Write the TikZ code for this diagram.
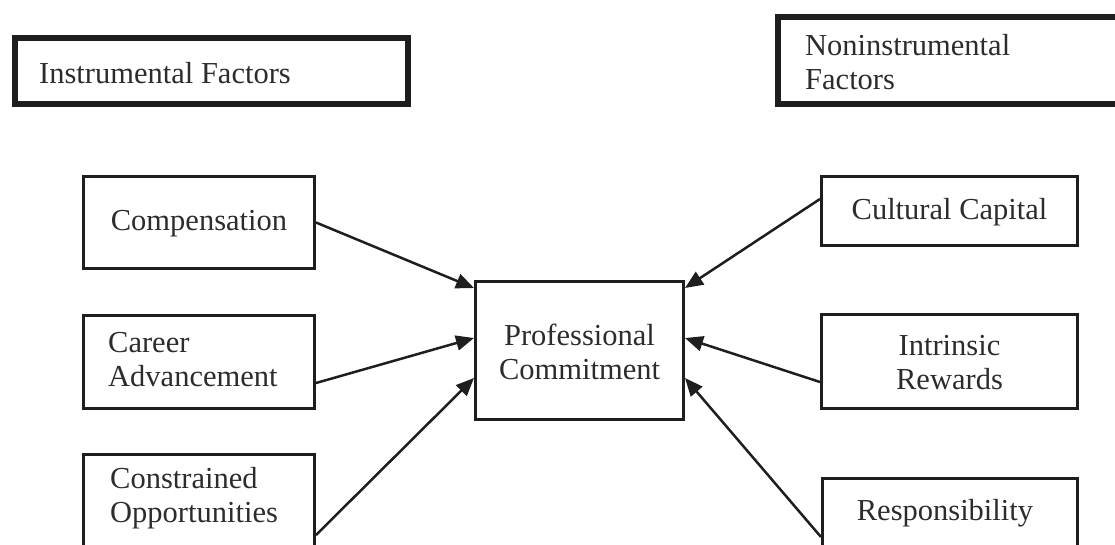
\documentclass[tikz,border=0pt]{standalone}
\usepackage{fontspec}
\setmainfont{Liberation Serif}
\usetikzlibrary{arrows.meta,calc}
\definecolor{ink}{HTML}{1E1E1E}
\definecolor{txt}{HTML}{2C2C2C}
\begin{document}
\begin{tikzpicture}[x=1pt,y=-1pt,
  lbl/.style={font=\fontsize{30.5}{34}\selectfont, text=txt, inner sep=0pt},
  thinbox/.style={draw=ink, line width=3pt, inner sep=0pt, anchor=north west},
  thickbox/.style={draw=ink, line width=5.5pt, inner sep=0pt, anchor=north west},
  arr/.style={draw=ink, line width=2.5pt, -{Triangle[length=18pt,width=15pt]}}]
\useasboundingbox (0,0) rectangle (1115,544);
\clip (0,0) rectangle (1115,544);
% header boxes
\node[thickbox, minimum width=393pt, minimum height=66pt] (instr) at (12,35) {};
\node[lbl, anchor=west] (instrT) at (39,73) {Instrumental Factors};
\node[thickbox, minimum width=360pt, minimum height=87pt] (nonin) at (775,14) {};
\node[lbl, anchor=west, align=left] (noninT) at (805,62) {Noninstrumental\\Factors};
% left column
\node[thinbox, minimum width=231pt, minimum height=92pt] (comp) at (82,175) {};
\node[lbl] (compT) at ($(comp.center)+(0,1)$) {Compensation};
\node[thinbox, minimum width=231pt, minimum height=93pt] (career) at (82,314) {};
\node[lbl, anchor=west, align=left] (careerT) at (108,360) {Career\\Advancement};
\node[thinbox, minimum width=231pt, minimum height=150pt] (cons) at (82,453) {};
\node[lbl, anchor=west, align=left] (consT) at (110,498) {Constrained\\Opportunities};
% centre
\node[thinbox, minimum width=208pt, minimum height=138pt] (pc) at (474,280) {};
\node[lbl, align=center] (pcT) at ($(pc.center)+(0,1)$) {Professional\\Commitment};
% right column
\node[thinbox, minimum width=256pt, minimum height=69pt] (cult) at (820,175) {};
\node[lbl] (cultT) at ($(cult.center)+(0,1)$) {Cultural Capital};
\node[thinbox, minimum width=256pt, minimum height=94pt] (intr) at (820,313) {};
\node[lbl, align=center] (intrT) at ($(intr.center)+(0,1)$) {Intrinsic\\Rewards};
\node[thinbox, minimum width=255pt, minimum height=130pt] (resp) at (821,477) {};
\node[lbl] (respT) at (945,513) {Responsibility};
% arrows
\draw[arr] (comp.east) -- ($(pc.north west)+(0,8)$);
\draw[arr] ($(career.north east)+(0,69)$) -- ($(pc.north west)+(0,58)$);
\draw[arr] ($(cons.north east)+(0,82)$) -- ($(pc.north west)+(0,98)$);
\draw[arr] ($(cult.north west)+(0,24)$) -- ($(pc.north east)+(0,8)$);
\draw[arr] ($(intr.north west)+(0,69)$) -- ($(pc.north east)+(0,58)$);
\draw[arr] ($(resp.north west)+(0,60)$) -- ($(pc.north east)+(0,98)$);
\end{tikzpicture}
\end{document}
